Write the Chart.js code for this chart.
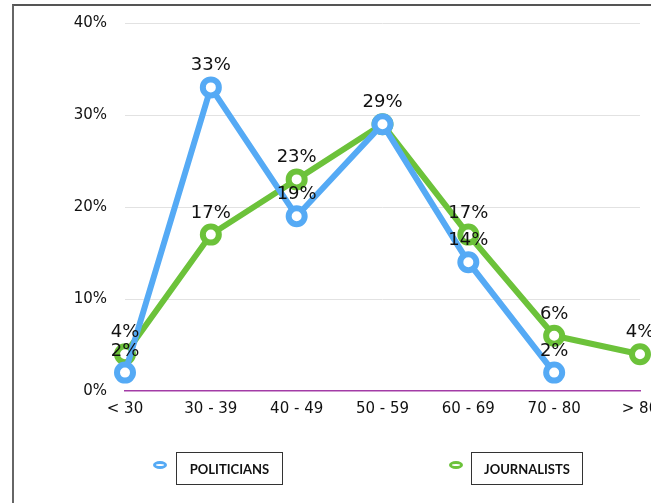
<!DOCTYPE html>
<html>
<head>
<meta charset="utf-8">
<script src="https://cdn.jsdelivr.net/npm/chart.js@4.4.0/dist/chart.umd.min.js"></script>
<style>
  html, body { margin: 0; padding: 0; background: #fff; overflow: hidden; }
  #wrap { position: relative; width: 651px; height: 503px; overflow: hidden; }
  #frame { position: absolute; left: 12px; top: 4px; width: 660px; height: 520px;
    border-left: 2px solid #666; border-top: 2px solid #555; }
  #box { position: absolute; left: 0; top: -4px; width: 690px; height: 503px; }
  .leg { position: absolute; top: 452px; height: 31px; border: 1px solid #333;
    font: bold 13px Lato, "Open Sans", sans-serif; color: #111;
    display: flex; align-items: center; justify-content: center; }
  .dot { position: absolute; top: 461px; width: 8px; height: 2px; border-radius: 50%;
    border: 3px solid; background: #fff; }
</style>
</head>
<body>
<div id="wrap">
  <div id="frame"></div>
  <div id="box"><canvas id="c"></canvas></div>
  <div class="dot" style="left:153px;border-color:#55aaf5"></div>
  <div class="leg" style="left:176px;width:105px">POLITICIANS</div>
  <div class="dot" style="left:449px;border-color:#6cc23a"></div>
  <div class="leg" style="left:471px;width:110px">JOURNALISTS</div>
</div>
<script>
var categories = ['< 30', '30 - 39', '40 - 49', '50 - 59', '60 - 69', '70 - 80', '> 80'];
var politicians = [2, 33, 19, 29, 14, 2, null];
var journalists = [4, 17, 23, 29, 17, 6, 4];
var yTicks = [0, 10, 20, 30, 40];

var blue = '#55aaf5';
var green = '#6cc23a';

// labels above each point (one label when two points share a spot)
var valueLabels = {
	id: 'valueLabels',
	afterDatasetsDraw: function(chart){
		var ctx = chart.ctx;
		var done = {};
		ctx.save();
		ctx.font = '18px "DejaVu Sans", sans-serif';
		ctx.fillStyle = '#111';
		ctx.textAlign = 'center';
		ctx.textBaseline = 'alphabetic';
		chart.data.datasets.forEach(function(ds, i){
			var meta = chart.getDatasetMeta(i);
			meta.data.forEach(function(pt, j){
				if(ds.data[j] == null) return;
				var key = Math.round(pt.x) + '_' + Math.round(pt.y);
				if(done[key]) return;
				done[key] = true;
				ctx.fillText(ds.data[j] + '%', pt.x, pt.y - 17);
			});
		});
		ctx.restore();
	}
};

new Chart(document.getElementById('c'), {
	type: 'line',
	data: {
		labels: categories,
		datasets: [
			{
				label: 'POLITICIANS',
				data: politicians,
				borderColor: blue,
				backgroundColor: '#fff',
				borderWidth: 6,
				pointRadius: 8,
				pointBorderWidth: 6,
				pointBorderColor: blue,
				pointBackgroundColor: '#fff',
				tension: 0,
				clip: false
			},
			{
				label: 'JOURNALISTS',
				data: journalists,
				borderColor: green,
				backgroundColor: '#fff',
				borderWidth: 6,
				pointRadius: 8,
				pointBorderWidth: 6,
				pointBorderColor: green,
				pointBackgroundColor: '#fff',
				tension: 0,
				clip: false
			}
		]
	},
	options: {
		responsive: true,
		maintainAspectRatio: false,
		animation: false,
		layout: { autoPadding: false, padding: { left: 65, right: 50, top: 23, bottom: 84 } },
		plugins: {
			legend: { display: false },
			tooltip: { enabled: false }
		},
		scales: {
			x: {
				afterFit: function(s){ s.height = 24; },
				grid: { display: false },
				border: { display: true, color: '#a33ca6', width: 1.5 },
				ticks: { color: '#111', padding: 1, maxRotation: 0,
					font: { family: '"DejaVu Sans", sans-serif', size: 15 } }
			},
			y: {
				min: 0,
				max: 40,
				afterFit: function(s){ s.width = 60; },
				afterBuildTicks: function(s){
					s.ticks = yTicks.map(function(v){ return { value: v }; });
				},
				grid: {
					drawTicks: false,
					color: function(c){ return c.tick && c.tick.value === 0 ? 'rgba(0,0,0,0)' : '#e2e2e2'; }
				},
				border: { display: false },
				ticks: {
					padding: 18,
					color: '#111',
					font: { family: '"DejaVu Sans", sans-serif', size: 15 },
					callback: function(v){ return v + '%'; }
				}
			}
		}
	},
	plugins: [valueLabels]
});
</script>
</body>
</html>
